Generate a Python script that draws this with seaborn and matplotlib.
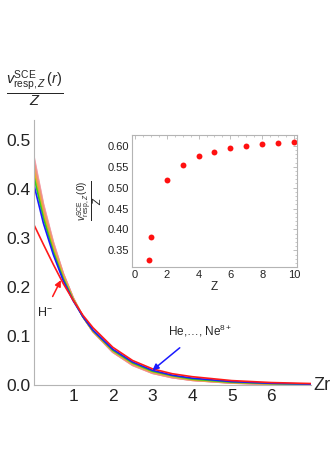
import numpy as np
import pandas as pd
import matplotlib
matplotlib.use("Agg")
import matplotlib.pyplot as plt
from matplotlib.ticker import MultipleLocator
import seaborn as sns

# ---------------- data ----------------
zr_grid = [0, 0.25, 0.5, 0.75, 1, 1.25, 1.5, 2, 2.5, 3, 3.5, 4, 5, 6, 7]

v_Hm = [0.329, 0.287, 0.246, 0.207, 0.173, 0.142, 0.117, 0.077, 0.050, 0.033, 0.023, 0.017, 0.009, 0.005, 0.003]
v_He = [0.412, 0.330, 0.266, 0.213, 0.172, 0.139, 0.112, 0.073, 0.047, 0.030, 0.020, 0.014, 0.007, 0.0035, 0.0018]
v_Li = [0.429, 0.341, 0.272, 0.217, 0.174, 0.139, 0.111, 0.071, 0.045, 0.028, 0.019, 0.012, 0.0058, 0.0028, 0.0014]
v_Be = [0.440, 0.349, 0.278, 0.221, 0.175, 0.139, 0.110, 0.070, 0.044, 0.027, 0.018, 0.011, 0.0051, 0.0024, 0.0011]
v_B = [0.449, 0.356, 0.282, 0.223, 0.176, 0.139, 0.110, 0.069, 0.043, 0.026, 0.017, 0.0105, 0.0047, 0.0021, 0.0010]
v_C = [0.455, 0.360, 0.285, 0.225, 0.177, 0.139, 0.109, 0.068, 0.042, 0.025, 0.016, 0.0102, 0.0044, 0.0019, 0.0009]
v_N = [0.460, 0.363, 0.287, 0.226, 0.177, 0.139, 0.109, 0.068, 0.041, 0.025, 0.016, 0.0099, 0.0042, 0.0018, 0.0008]
v_O = [0.464, 0.366, 0.289, 0.227, 0.178, 0.139, 0.109, 0.067, 0.041, 0.024, 0.015, 0.0097, 0.0040, 0.0017, 0.0008]
v_F = [0.468, 0.368, 0.291, 0.228, 0.178, 0.139, 0.109, 0.067, 0.040, 0.024, 0.015, 0.0096, 0.0039, 0.0017, 0.0007]
v_Ne = [0.471, 0.370, 0.292, 0.228, 0.178, 0.139, 0.109, 0.067, 0.040, 0.024, 0.015, 0.0095, 0.0038, 0.0016, 0.0007]

ions = ["H-", "He", "Li+", "Be2+", "B3+", "C4+", "N5+", "O6+", "F7+", "Ne8+"]
ion_colors = ["#ff1a1a", "#1a1aff", "#33cc22", "#e8b020", "#eca060", "#f09478",
              "#f2928c", "#f49a9e", "#f5a4ae", "#f7acb8"]

inset_Z = [0.911, 1, 2, 3, 4, 5, 6, 7, 8, 9, 10]
inset_v0 = [0.326, 0.382, 0.518, 0.554, 0.576, 0.586, 0.594, 0.599, 0.604, 0.606, 0.609]

main_xticks = [1, 2, 3, 4, 5, 6]
main_yticks = [0.0, 0.1, 0.2, 0.3, 0.4, 0.5]
inset_xticks = [0, 2, 4, 6, 8, 10]
inset_yticks = [0.35, 0.40, 0.45, 0.50, 0.55, 0.60]

# ---------------- style ----------------
sns.set_theme(style="white")
plt.rcParams["font.family"] = ["Liberation Sans", "DejaVu Sans"]
plt.rcParams["mathtext.fontset"] = "custom"
plt.rcParams["mathtext.rm"] = "Liberation Sans"
plt.rcParams["mathtext.it"] = "Liberation Sans:italic"
plt.rcParams["mathtext.bf"] = "Liberation Sans:bold"

gray = "#b4b4b4"

series = [v_Hm, v_He, v_Li, v_Be, v_B, v_C, v_N, v_O, v_F, v_Ne]
rows = []
for ion, vals in zip(ions, series):
    for x, v in zip(zr_grid, vals):
        rows.append({"Zr": x, "v": v, "ion": ion})
df = pd.DataFrame(rows)

fig = plt.figure(figsize=(3.31, 4.68), dpi=100)
W, H = 331, 468
ax = fig.add_axes([33.5 / W, 1 - 385 / H, (311 - 33.5) / W, (385 - 120.4) / H])

order = ions[::-1]
pal = dict(zip(ions, ion_colors))
sns.lineplot(data=df, x="Zr", y="v", hue="ion", hue_order=order, palette=pal,
             estimator=None, sort=False, legend=False, linewidth=1.2, ax=ax)

ax.set_xlim(0, 7)
ax.set_ylim(0, 0.54)
ax.set_xticks(main_xticks)
ax.set_yticks(main_yticks)
ax.set_yticklabels([f"{t:.1f}" for t in main_yticks])
ax.xaxis.set_minor_locator(MultipleLocator(0.2))
ax.yaxis.set_minor_locator(MultipleLocator(0.02))
for s in ["top", "right"]:
    ax.spines[s].set_visible(False)
for s in ["left", "bottom"]:
    ax.spines[s].set_color(gray)
    ax.spines[s].set_linewidth(0.8)
ax.tick_params(axis="both", which="major", direction="in", length=4, width=0.6,
               color=gray, labelsize=12.5, labelcolor="#222222", pad=3)
ax.tick_params(axis="both", which="minor", direction="in", length=2, width=0.5, color=gray)
ax.tick_params(axis="y", pad=2)
ax.set_xlabel("")
ax.set_ylabel("")

fig.text(35 / W, 1 - 89 / H, r"$\frac{v^{\mathrm{SCE}}_{\mathrm{resp},Z}\,(r)}{Z}$",
         ha="center", va="center", fontsize=15)
fig.text(313 / W, 1 - 385 / H, "Zr", ha="left", va="center", fontsize=13)

# annotations
ax.annotate(r"H$^{-}$", xy=(0.69, 0.214), xytext=(0.28, 0.148),
            ha="center", va="center", fontsize=9,
            arrowprops=dict(arrowstyle="-|>", color="#ff1a1a", lw=1.1,
                            shrinkA=5, shrinkB=0, mutation_scale=9))
ax.annotate(r"He,…, Ne$^{8+}$", xy=(3.0, 0.030), xytext=(4.2, 0.110),
            ha="center", va="center", fontsize=8.5,
            arrowprops=dict(arrowstyle="-|>", color="#1a1aff", lw=1.1,
                            shrinkA=6, shrinkB=0, mutation_scale=9))

# ---------------- inset ----------------
axi = fig.add_axes([131.5 / W, 1 - 267 / H, (296.7 - 131.5) / W, (267 - 135) / H])
sns.scatterplot(x=inset_Z, y=inset_v0, color="#ff1010", s=18, linewidth=0, ax=axi)
axi.set_xlim(-0.22, 10.17)
axi.set_ylim(0.3102, 0.626)
axi.set_xticks(inset_xticks)
axi.set_yticks(inset_yticks)
axi.set_yticklabels([f"{t:.2f}" for t in inset_yticks])
axi.xaxis.set_minor_locator(MultipleLocator(0.5))
axi.yaxis.set_minor_locator(MultipleLocator(0.01))
for s in axi.spines.values():
    s.set_color(gray)
    s.set_linewidth(0.8)
axi.tick_params(axis="both", which="major", direction="in", length=3, width=0.6,
                color=gray, labelsize=8, labelcolor="#222222", pad=2,
                top=True, right=True)
axi.tick_params(axis="both", which="minor", direction="in", length=1.5, width=0.5,
                color=gray, top=True, right=True)
axi.set_xlabel("Z", fontsize=8.5, labelpad=1)
axi.set_ylabel(r"$\frac{v^{\mathrm{SCE}}_{\mathrm{resp},Z}\,(0)}{Z}$", fontsize=10, labelpad=2)

fig.savefig("out.png", dpi=100)
